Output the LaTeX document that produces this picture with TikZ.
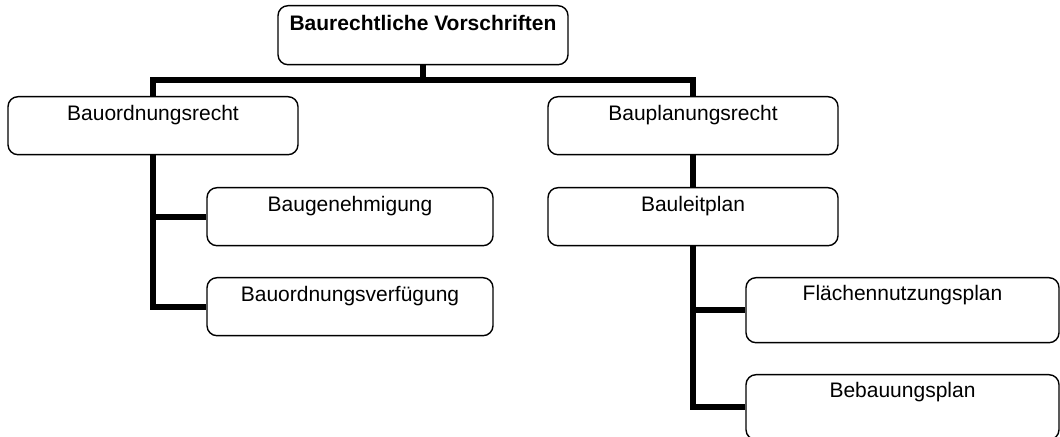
\documentclass[tikz,border=0pt]{standalone}
\usepackage{fontspec}
\setmainfont{Liberation Sans}
\usepackage{tikz}
\usetikzlibrary{positioning}
\tikzset{kasten/.style={draw, rounded corners=5pt, line width=0.7pt, inner sep=0pt,
  minimum width=145pt, text height=12pt, text depth=17pt, anchor=north,
  font=\fontsize{10.5}{12}\selectfont}}
\tikzset{linie/.style={line width=3pt}}

\begin{document}
\begin{tikzpicture}[x=0.5pt,y=-0.5pt]
\useasboundingbox (0,0) rectangle (1060,437);
\clip (0,0) rectangle (1060,437);
% Kaesten
\node[kasten, font=\fontsize{10.5}{12}\selectfont\bfseries, text height=12.5pt] (bv) at (423,5) {Baurechtliche Vorschriften};
\node[kasten] (bor) at (153,96) {Bauordnungsrecht};
\node[kasten] (bpr) at (693,96) {Bauplanungsrecht};
\node[kasten, minimum width=143pt] (bgen) at (350,187) {Baugenehmigung};
\node[kasten, minimum width=143pt] (bvf) at (350,277) {Bauordnungsverfügung};
\node[kasten] (blp) at (693,187) {Bauleitplan};
\node[kasten, minimum width=156.5pt, text height=11.5pt, text depth=21pt] (fnp) at (902.5,277) {Flächennutzungsplan};
\node[kasten, minimum width=156.5pt, text height=11.5pt, text depth=21pt] (bbp) at (902.5,374) {Bebauungsplan};
% Linien
\draw[linie] (bv.south) -- ++(0,16);
\draw[linie] (bor.north) -- ++(0,-16) -| (bpr.north);
\draw[linie] (bor.south) |- (bgen.west);
\draw[linie] (bor.south) |- (bvf.west);
\draw[linie] (bpr.south) -- (blp.north);
\draw[linie] (blp.south) |- (fnp.west);
\draw[linie] (blp.south) |- (bbp.west);
\end{tikzpicture}
\end{document}
